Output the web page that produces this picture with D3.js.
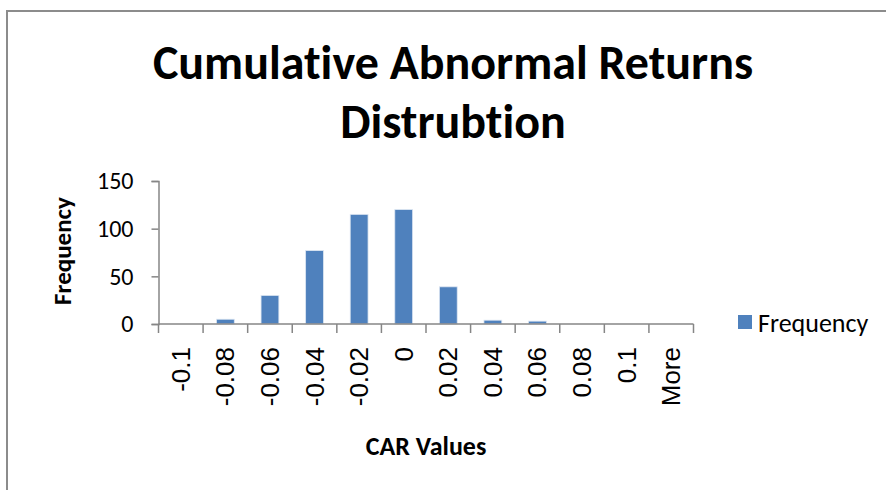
<!DOCTYPE html>
<html>
<head>
<meta charset="utf-8">
<script src="https://cdn.jsdelivr.net/npm/d3@7"></script>
<style>
  body { margin: 0; background: #fff; }
  svg { display: block; }
  text { font-family: Carlito, Calibri, Lato, sans-serif; fill: #000; font-variant-ligatures: none; }
</style>
</head>
<body>
<svg id="mysvg" width="886" height="490"></svg>
<script>
// histogram bins and counts
var categories = ["-0.1", "-0.08", "-0.06", "-0.04", "-0.02", "0", "0.02", "0.04", "0.06", "0.08", "0.1", "More"];
var frequency = [0, 5, 30, 77, 115, 120, 39, 4, 3, 0, 0, 0];
var yTicks = [0, 50, 100, 150];
var seriesName = "Frequency";
var titleLines = ["Cumulative Abnormal Returns", "Distrubtion"];

var svg = d3.select("#mysvg");
var axisColor = "#868686";
var barColor = "#4F81BD";

// outer chart border (runs past right and bottom edges)
svg.append("path")
  .attr("d", "M7,490 L7,11 L886,11")
  .attr("fill", "none")
  .attr("stroke", "#8c8c8c")
  .attr("stroke-width", 2);

var plotLeft = 158.5, plotRight = 693.5, plotTop = 181, plotBottom = 324;

var x = d3.scaleBand().domain(categories).range([plotLeft, plotRight]).padding(0);
var y = d3.scaleLinear().domain([0, 150]).range([plotBottom, plotTop]);

// title
svg.selectAll(".title").data(titleLines).enter().append("text")
  .attr("class", "title")
  .attr("x", 453)
  .attr("y", function(d, i) { return 79 + i * 59; })
  .attr("text-anchor", "middle")
  .style("font-weight", "bold")
  .style("font-size", "48px")
  .text(function(d) { return d; });

// bars
var barW = x.bandwidth() / 2.5;
svg.append("g").selectAll("rect").data(frequency).enter().append("rect")
  .attr("x", function(d, i) { return x(categories[i]) + (x.bandwidth() - barW) / 2; })
  .attr("y", function(d) { return y(d); })
  .attr("width", barW)
  .attr("height", function(d) { return plotBottom - y(d); })
  .attr("fill", barColor)
  .attr("stroke", "#dde6f2")
  .attr("stroke-width", 0.8);

// y axis
var yAxis = svg.append("g")
  .attr("transform", "translate(" + plotLeft + ",0)")
  .call(d3.axisLeft(y).tickValues(yTicks).tickSize(7).tickPadding(18));
yAxis.select(".domain").attr("stroke", axisColor).attr("stroke-width", 1.5);
yAxis.selectAll(".tick line").attr("stroke", axisColor).attr("stroke-width", 1.5);
yAxis.selectAll(".tick text")
  .style("font-family", "Carlito, Calibri, Lato, sans-serif")
  .style("font-size", "24px")
  .attr("fill", "#000");

// x axis: line and ticks at band edges
var edges = categories.map(function(c) { return x(c); }).concat([plotRight]);
svg.append("line")
  .attr("x1", plotLeft).attr("x2", plotRight)
  .attr("y1", plotBottom).attr("y2", plotBottom)
  .attr("stroke", axisColor).attr("stroke-width", 1.5);
svg.append("g").selectAll("line").data(edges).enter().append("line")
  .attr("x1", function(d) { return d; }).attr("x2", function(d) { return d; })
  .attr("y1", plotBottom).attr("y2", plotBottom + 9)
  .attr("stroke", axisColor).attr("stroke-width", 1.5);

// x labels, rotated
svg.append("g").selectAll("text").data(categories).enter().append("text")
  .attr("transform", function(d) {
    return "translate(" + (x(d) + x.bandwidth() / 2 + 9) + "," + (plotBottom + 23) + ") rotate(-90)";
  })
  .attr("text-anchor", "end")
  .style("font-family", "'Liberation Sans', Arial, sans-serif")
  .style("font-size", "26px")
  .text(function(d) { return d; });

// axis titles
svg.append("text")
  .attr("x", (plotLeft + plotRight) / 2)
  .attr("y", 455)
  .attr("text-anchor", "middle")
  .style("font-weight", "bold")
  .style("font-size", "26px")
  .text("CAR Values");

svg.append("text")
  .attr("transform", "translate(71,251) rotate(-90)")
  .attr("text-anchor", "middle")
  .style("font-weight", "bold")
  .style("font-size", "25px")
  .text("Frequency");

// legend
svg.append("rect")
  .attr("x", 738).attr("y", 315)
  .attr("width", 14).attr("height", 14)
  .attr("fill", barColor);
svg.append("text")
  .attr("x", 758).attr("y", 332)
  .style("font-size", "26px")
  .text(seriesName);
</script>
</body>
</html>
